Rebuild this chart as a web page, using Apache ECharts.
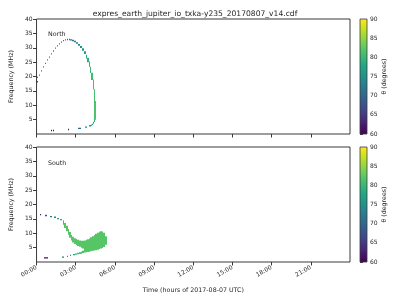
<!DOCTYPE html>
<html><head><meta charset="utf-8">
<script src="https://cdn.jsdelivr.net/npm/echarts@6/dist/echarts.min.js"></script>
<style>html,body{margin:0;padding:0;background:#fff}#c{width:400px;height:300px}</style>
</head><body><div id="c"></div>
<script>
// ---- data (hours, MHz low, MHz high, theta degrees) ----
const titleText = 'expres_earth_jupiter_io_txka-y235_20170807_v14.cdf';
const panelNames = ['North', 'South'];
const timeTicks = [0, 3, 6, 9, 12, 15, 18, 21];
const freqTicks = [5, 10, 15, 20, 25, 30, 35, 40];
const thetaTicks = [60, 65, 70, 75, 80, 85, 90];
const northData = [
  [0.0, 18.0, 18.4, 66],
  [0.05, 19.6, 19.9, 73],
  [0.2, 20.3, 20.7, 73],
  [0.35, 21.8, 22.2, 73],
  [0.5, 23.2, 23.6, 73],
  [0.65, 24.4, 24.8, 73],
  [0.8, 25.6, 26.0, 73],
  [0.95, 26.6, 27.0, 73],
  [1.1, 27.7, 28.1, 72.5],
  [1.25, 28.7, 29.1, 72.5],
  [1.4, 29.7, 30.1, 72.5],
  [1.55, 30.5, 30.9, 72],
  [1.7, 31.2, 31.6, 72],
  [1.85, 31.8, 32.2, 71.5],
  [2.0, 32.3, 32.7, 71],
  [2.15, 32.6, 33.0, 71],
  [2.3, 32.7, 33.1, 71],
  [2.45, 32.7, 33.1, 71],
  [2.6, 32.6, 33.0, 71.5],
  [2.75, 32.3, 32.8, 72],
  [2.9, 31.9, 32.4, 72.5],
  [3.05, 31.4, 31.9, 73],
  [3.2, 30.7, 31.3, 74],
  [3.35, 29.9, 30.6, 75],
  [3.5, 29.0, 29.8, 76],
  [3.65, 27.8, 28.8, 77],
  [3.8, 26.3, 27.6, 78],
  [3.9, 25.0, 26.5, 79],
  [4.0, 23.3, 25.2, 79.5],
  [4.1, 21.2, 23.4, 80],
  [4.2, 18.8, 21.3, 80.5],
  [4.3, 15.5, 19.0, 81],
  [4.37, 11.0, 15.6, 81],
  [4.43, 5.0, 11.5, 81.5],
  [1.1, 1.2, 1.45, 61],
  [1.25, 1.2, 1.45, 61],
  [2.4, 1.5, 1.8, 62],
  [3.2, 1.9, 2.2, 70],
  [3.3, 1.9, 2.2, 70],
  [3.7, 2.3, 2.6, 74],
  [3.8, 2.3, 2.6, 74],
  [4.05, 2.8, 3.1, 76],
  [4.15, 3.0, 3.3, 76],
  [4.25, 3.2, 3.6, 77],
  [4.33, 3.6, 4.3, 78],
  [4.4, 4.2, 5.2, 79]
];
const southData = [
  [0.25, 16.4, 16.7, 62],
  [0.65, 16.1, 16.4, 67],
  [1.05, 15.7, 16.0, 72],
  [1.35, 15.5, 15.8, 74],
  [1.6, 15.0, 15.3, 76],
  [1.8, 14.6, 15.0, 78],
  [2.0, 13.0, 14.5, 81],
  [2.125, 11.8, 13.6, 82],
  [2.25, 10.7, 12.6, 82],
  [2.375, 9.5, 11.5, 82],
  [2.5, 8.4, 10.4, 82],
  [2.625, 7.5, 9.4, 82],
  [2.75, 6.8, 8.8, 82],
  [2.875, 6.3, 8.3, 82],
  [3.0, 5.9, 8.0, 82],
  [3.125, 5.6, 7.7, 82],
  [3.25, 5.3, 7.5, 82],
  [3.375, 5.0, 7.4, 82],
  [3.5, 4.7, 7.4, 82],
  [3.625, 3.3, 7.5, 82],
  [3.75, 3.4, 7.7, 82],
  [3.875, 3.5, 7.9, 82],
  [4.0, 3.6, 8.2, 82],
  [4.125, 3.7, 8.6, 82],
  [4.25, 3.9, 9.0, 82],
  [4.375, 4.0, 9.4, 82],
  [4.5, 4.1, 9.8, 82],
  [4.625, 4.3, 10.2, 82],
  [4.75, 4.5, 10.5, 82],
  [4.875, 4.7, 10.7, 82],
  [5.0, 4.9, 10.6, 82],
  [5.125, 5.2, 10.2, 82],
  [5.25, 6.0, 9.0, 82],
  [3.125, 2.7, 3.2, 81],
  [3.25, 2.8, 3.4, 81],
  [3.375, 2.9, 3.6, 81],
  [3.5, 3.1, 3.9, 81],
  [1.95, 1.7, 1.9, 73],
  [2.3, 1.9, 2.2, 76],
  [2.55, 2.1, 2.5, 77],
  [2.8, 2.4, 2.8, 78],
  [2.95, 2.5, 3.0, 80],
  [0.6, 1.35, 1.65, 61],
  [0.75, 1.35, 1.65, 61]
];

const viridis = ['#440154','#482475','#414487','#355f8d','#2a788e','#21918c','#22a884','#44bf70','#7ad151','#bddf26','#fde725'];
const FONT = 'DejaVu Sans';
const TXT = '#262626';

function makeRender(dt) {
  return function (params, api) {
    const t = api.value(0), lo = api.value(1), hi = api.value(2);
    const p0 = api.coord([t, hi]);
    const p1 = api.coord([t + dt, lo]);
    const x0 = Math.round(p0[0]), x1 = Math.max(Math.round(p1[0]), x0 + 1);
    return {
      type: 'rect',
      shape: { x: x0, y: p0[1], width: x1 - x0, height: Math.max(p1[1] - p0[1], 1.3) },
      style: { fill: api.visual('color') }
    };
  };
}

function cbRender(params, api) {
  const p0 = api.coord([0, api.value(2)]);
  const p1 = api.coord([1, api.value(1)]);
  const stops = viridis.map((c, i) => ({ offset: i / (viridis.length - 1), color: c }));
  return {
    type: 'rect',
    shape: { x: p0[0], y: p0[1], width: p1[0] - p0[0], height: p1[1] - p0[1] },
    style: { fill: new echarts.graphic.LinearGradient(0, 1, 0, 0, stops) }
  };
}

const pad = h => (h < 10 ? '0' : '') + h + ':00';
const gridTops = [19, 147];
const H = 115;

const grids = [], xAxes = [], yAxes = [], series = [];
[0, 1].forEach(i => {
  grids.push({ left: 31, top: gridTops[i], width: 319, height: H, show: true, borderColor: '#3a3a3a', borderWidth: 1 });
  xAxes.push({
    gridIndex: i, type: 'value', min: 0, max: 24,
    axisLine: { show: false },
    axisTick: { show: true, length: 3.5, customValues: timeTicks, lineStyle: { color: '#3a3a3a' } },
    axisLabel: i === 1 ? {
      show: true, customValues: timeTicks, rotate: 30, fontSize: 6, fontFamily: FONT, color: TXT, margin: 5,
      formatter: v => pad(v)
    } : { show: false },
    splitLine: { show: false },
    name: i === 1 ? 'Time (hours of 2017-08-07 UTC)' : '',
    nameLocation: 'middle', nameGap: 25,
    nameTextStyle: { fontSize: 6.3, fontFamily: FONT, color: TXT }
  });
  yAxes.push({
    gridIndex: i, type: 'value', min: 0, max: 40,
    axisLine: { show: false },
    axisTick: { show: true, length: 3.5, customValues: freqTicks, lineStyle: { color: '#3a3a3a' } },
    axisLabel: { show: true, customValues: freqTicks, fontSize: 6, fontFamily: FONT, color: TXT, margin: 4 },
    splitLine: { show: false },
    name: 'Frequency (MHz)', nameLocation: 'middle', nameGap: 16, nameRotate: 90,
    nameTextStyle: { fontSize: 6.3, fontFamily: FONT, color: TXT }
  });
});
series.push({ type: 'custom', xAxisIndex: 0, yAxisIndex: 0, data: northData, renderItem: makeRender(0.1), clip: true });
series.push({ type: 'custom', xAxisIndex: 1, yAxisIndex: 1, data: southData, renderItem: makeRender(0.125), clip: true });

// colorbars
[0, 1].forEach(i => {
  grids.push({ left: 360, top: gridTops[i], width: 7, height: H, show: true, borderColor: '#3a3a3a', borderWidth: 0.8, z: 5 });
  xAxes.push({ gridIndex: 2 + i, type: 'value', min: 0, max: 1, show: false });
  yAxes.push({
    gridIndex: 2 + i, type: 'value', min: 60, max: 90, interval: 5, position: 'right',
    axisLine: { show: false },
    axisTick: { show: true, length: 3, lineStyle: { color: '#3a3a3a' } },
    axisLabel: { show: true, fontSize: 6, fontFamily: FONT, color: TXT, margin: 3 },
    splitLine: { show: false },
    name: 'θ (degrees)', nameLocation: 'middle', nameGap: 13, nameRotate: 90,
    nameTextStyle: { fontSize: 6.3, fontFamily: FONT, color: TXT }
  });
  series.push({ type: 'custom', xAxisIndex: 2 + i, yAxisIndex: 2 + i, data: [[0, thetaTicks[0], thetaTicks[thetaTicks.length - 1]]], renderItem: cbRender, silent: true });
});

const chart = echarts.init(document.getElementById('c'), null, { renderer: 'canvas' });
chart.setOption({
  animation: false,
  backgroundColor: '#fff',
  title: [
    { text: titleText, left: 190, top: 5, textAlign: 'center', textStyle: { fontSize: 7.6, fontWeight: 'normal', fontFamily: FONT, color: TXT } },
    { text: panelNames[0], left: 43, top: 26, textStyle: { fontSize: 6.3, fontWeight: 'normal', fontFamily: FONT, color: TXT } },
    { text: panelNames[1], left: 43, top: 155, textStyle: { fontSize: 6.3, fontWeight: 'normal', fontFamily: FONT, color: TXT } }
  ],
  visualMap: {
    show: false, type: 'continuous', min: 60, max: 90, dimension: 3, seriesIndex: [0, 1],
    inRange: { color: viridis }
  },
  grid: grids, xAxis: xAxes, yAxis: yAxes, series: series
});
</script></body></html>
